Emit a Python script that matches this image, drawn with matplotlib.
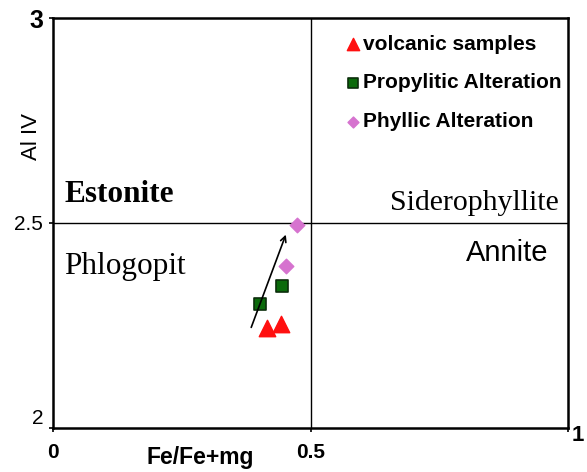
import matplotlib
matplotlib.use("Agg")
import matplotlib.pyplot as plt

# Fe/(Fe+Mg) vs Al IV for the biotite samples
volcanic_x = [0.415, 0.443]
volcanic_y = [2.244, 2.254]
propylitic_x = [0.402, 0.444]
propylitic_y = [2.302, 2.346]
phyllic_x = [0.452, 0.473]
phyllic_y = [2.395, 2.495]

trend_start = (0.383, 2.239)
trend_end = (0.454, 2.478)

x_ticks = [0, 0.5, 1]
x_tick_labels = ["0", "0.5", ""]
y_ticks = [2, 2.5, 3]
y_tick_labels = ["2", "2.5", "3"]

sans = "Liberation Sans"
serif = "Liberation Serif"

fig = plt.figure(figsize=(5.87, 4.72), dpi=100)
ax = fig.add_axes([53 / 587, 44 / 472, 515 / 587, 410 / 472])
ax.set_xlim(0, 1)
ax.set_ylim(2, 3)

for side in ["left", "bottom", "top", "right"]:
    ax.spines[side].set_linewidth(1.8)

# quadrant dividers
ax.axvline(0.5, color="black", lw=1.0)
ax.axhline(2.5, color="black", lw=1.0)

ax.scatter(volcanic_x, volcanic_y, marker="^", s=140, color="#ff1010",
           edgecolor="#ff1010", label="volcanic samples", zorder=3)
ax.scatter(propylitic_x, propylitic_y, marker="s", s=85, color="#0a6a0a",
           edgecolor="#0b2e0b", linewidth=1.2, label="Propylitic Alteration", zorder=3)
ax.scatter(phyllic_x, phyllic_y, marker="D", s=55, color="#d673cf",
           edgecolor="#d673cf", label="Phyllic Alteration", zorder=3)

ax.annotate("", xy=trend_end, xytext=trend_start,
            arrowprops=dict(arrowstyle="->", color="black", lw=1.2), zorder=4)

ax.text(0.022, 2.57, "Estonite", fontsize=22.5, fontweight="bold", family=serif,
        va="center", ha="left")
ax.text(0.022, 2.395, "Phlogopit", fontsize=22.5, family=serif, va="center", ha="left")
ax.text(0.982, 2.55, "Siderophyllite", fontsize=21.5, family=serif, va="center", ha="right")
ax.text(0.962, 2.427, "Annite", fontsize=21, family=sans, va="center", ha="right")

ax.set_xticks(x_ticks)
ax.set_xticklabels(x_tick_labels, fontsize=15, fontweight="bold", family=sans)
ax.set_yticks(y_ticks)
ax.set_yticklabels(y_tick_labels, fontsize=15, family=sans)
ax.tick_params(axis="both", length=3, width=1.2, pad=4)
ax.tick_params(axis="x", pad=8)
ylbls = ax.get_yticklabels()
ylbls[0].set_va("bottom")
ylbls[2].set_fontsize(18)
ylbls[2].set_fontweight("bold")
ax.text(1.008, 2.008, "1", fontsize=16, fontweight="bold", family=sans,
        ha="left", va="top", transform=ax.transData, clip_on=False)

ax.set_xlabel("Fe/Fe+mg", fontsize=16.5, fontweight="bold", family=sans)
ax.xaxis.set_label_coords(0.285, -0.045)
ax.set_ylabel("Al IV", fontsize=16, family=sans)
ax.yaxis.set_label_coords(-0.022, 0.71)

leg = ax.legend(loc="upper left", bbox_to_anchor=(0.55, 0.98), frameon=False,
                prop={"family": sans, "weight": "bold", "size": 15},
                handletextpad=0.1, labelspacing=0.95, handlelength=0.8,
                borderaxespad=0, markerscale=0.75)

fig.savefig("out.png", dpi=100)
